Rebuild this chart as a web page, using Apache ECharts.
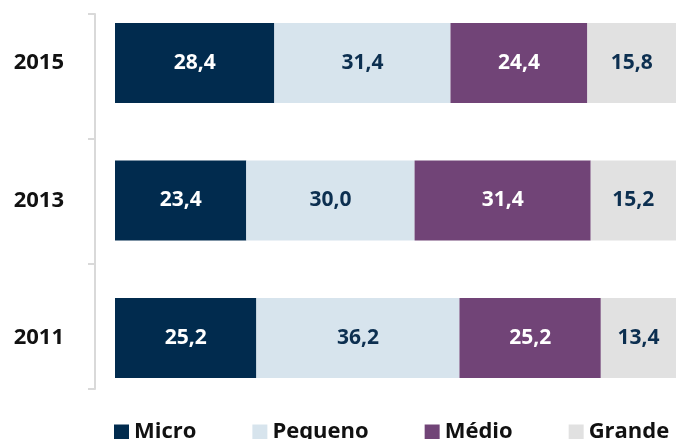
<!DOCTYPE html>
<html>
<head>
<meta charset="utf-8">
<script src="https://cdn.jsdelivr.net/npm/echarts@6/dist/echarts.min.js"></script>
<style>
    html, body { margin: 0; padding: 0; background: #fff; }
    #myEchart { width: 676px; height: 439px; }
</style>
</head>
<body>
<div id="myEchart"></div>
<script>
// anos (de baixo para cima)
var years = ['2011', '2013', '2015'];
var micro = [25.2, 23.4, 28.4];
var pequeno = [36.2, 30.0, 31.4];
var medio = [25.2, 31.4, 24.4];
var grande = [13.4, 15.2, 15.8];

var chart = echarts.init(document.getElementById('myEchart'));

function fmt(p) {
    return p.value.toFixed(1).replace('.', ',');
}

function serie(name, data, color, textColor) {
    return {
        name: name,
        type: 'bar',
        stack: 'total',
        xAxisIndex: 0,
        yAxisIndex: 0,
        barWidth: 80,
        clip: false,
        data: data,
        itemStyle: {color: color},
        label: {
            show: true,
            position: 'inside',
            formatter: fmt,
            color: textColor,
            fontFamily: 'Open Sans',
            fontWeight: 'bold',
            fontSize: 21
        }
    };
}

var option = {
    animation: false,
    legend: {
        left: 109,
        top: 416,
        itemWidth: 15,
        itemHeight: 15,
        itemGap: 56,
        icon: 'rect',
        textStyle: {fontFamily: 'Open Sans', fontWeight: 'bold', fontSize: 22, color: '#111', lineHeight: 22},
        data: ['Micro', 'Pequeno', 'Médio', 'Grande']
    },
    grid: [
        {left: 115, right: 0, top: 63, height: 275},
        {left: 95, right: 0, top: 14, height: 375}
    ],
    xAxis: [
        {gridIndex: 0, type: 'value', min: 0, max: 100, show: false},
        {gridIndex: 1, type: 'value', min: 0, max: 100, show: false}
    ],
    yAxis: [
        {
            gridIndex: 0,
            type: 'category',
            boundaryGap: false,
            data: years,
            axisLine: {show: false},
            axisTick: {show: false},
            splitLine: {show: false},
            axisLabel: {
                margin: 51,
                color: '#111',
                fontFamily: 'Open Sans',
                fontWeight: 'bold',
                fontSize: 22
            }
        },
        {
            gridIndex: 1,
            type: 'category',
            data: ['', '', ''],
            axisLine: {lineStyle: {color: '#d9d9d9', width: 2}},
            axisTick: {show: true, length: 7, lineStyle: {color: '#d9d9d9', width: 2}},
            axisLabel: {show: false}
        }
    ],
    series: [
        serie('Micro', micro, '#012b4e', '#ffffff'),
        serie('Pequeno', pequeno, '#d7e4ed', '#0c2f50'),
        serie('Médio', medio, '#714477', '#ffffff'),
        serie('Grande', grande, '#e1e1e1', '#0c2f50')
    ]
};

chart.setOption(option);
</script>
</body>
</html>
